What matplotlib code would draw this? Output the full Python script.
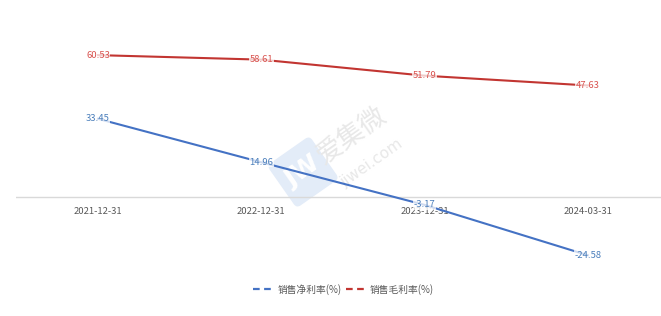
import matplotlib
matplotlib.use("Agg")
import matplotlib.pyplot as plt
from matplotlib.lines import Line2D
from matplotlib.patches import FancyBboxPatch
import matplotlib.transforms as mtransforms

plt.rcParams['font.family'] = ['Noto Sans CJK SC', 'DejaVu Sans']

categories = ["2021-12-31", "2022-12-31", "2023-12-31", "2024-03-31"]
net_margin = [33.45, 14.96, -3.17, -24.58]
gross_margin = [60.53, 58.61, 51.79, 47.63]
series_names = ["销售净利率(%)", "销售毛利率(%)"]

blue = "#4472c4"
blue_lbl = "#4a7ebb"
red = "#c23531"
red_lbl = "#d9534f"
grey = "#595959"

W, H = 661, 316
fig = plt.figure(figsize=(W / 100, H / 100), dpi=100)

# watermark (behind chart)
wm = fig.add_axes([0, 0, 1, 1], zorder=0)
wm.set_xlim(0, W)
wm.set_ylim(H, 0)
wm.axis("off")
cx, cy = 303, 172
tr = mtransforms.Affine2D().rotate_deg_around(cx, cy, -35) + wm.transData
box = FancyBboxPatch((cx - 26, cy - 26), 52, 52, boxstyle="round,pad=0,rounding_size=5",
                     facecolor="#e3ecf8", edgecolor="none", transform=tr)
wm.add_patch(box)
wm.text(cx, cy, "JW", fontsize=18, color="white", fontweight="bold",
        rotation=35, ha="center", va="center", family="DejaVu Sans")
wm.text(352, 135, "爱集微", fontsize=19, color="#e8e8e8", rotation=35,
        ha="center", va="center")
wm.text(372, 163, "jiwei.com", fontsize=11, color="#e8e8e8", rotation=35,
        ha="center", va="center", family="DejaVu Sans")

ax = fig.add_axes([0.0247, 0.152, 0.988, 0.744], zorder=1)
ax.patch.set_alpha(0)
ax.set_xlim(-0.5, 3.5)
ax.set_ylim(-30, 70)
for s in ax.spines.values():
    s.set_visible(False)
ax.set_yticks([])
ax.set_xticks([])
ax.axhline(0, color="#d9d9d9", lw=1.0, zorder=1)

x = list(range(len(categories)))

# category labels just below the zero line
for xi, c in zip(x, categories):
    ax.annotate(c, xy=(xi, 0), xytext=(0, -10), textcoords="offset points",
                ha="center", va="center", fontsize=6.8, color=grey, zorder=2)

ax.plot(x, gross_margin, color=red, lw=1.5, zorder=3)
ax.plot(x, net_margin, color=blue, lw=1.5, zorder=3)
bb = dict(boxstyle="square,pad=0.05", facecolor="white", edgecolor="none", alpha=0.75)
for xi, v in zip(x, gross_margin):
    ax.text(xi, v, f"{v:.2f}", color=red_lbl, fontsize=6.8, ha="center", va="center",
            zorder=4, bbox=bb)
for xi, v in zip(x, net_margin):
    ax.text(xi, v, f"{v:.2f}", color=blue_lbl, fontsize=6.8, ha="center", va="center",
            zorder=4, bbox=bb)

handles = [Line2D([0], [0], color=blue, lw=1.6, linestyle=(0, (3, 2))),
           Line2D([0], [0], color=red, lw=1.6, linestyle=(0, (3, 2)))]
leg = fig.legend(handles, series_names, loc="center", bbox_to_anchor=(0.52, 0.085),
                 ncol=2, frameon=False, fontsize=7, handlelength=2.2,
                 handletextpad=0.3, columnspacing=0.4)
for t in leg.get_texts():
    t.set_color(grey)

fig.savefig("out.png", dpi=100)
